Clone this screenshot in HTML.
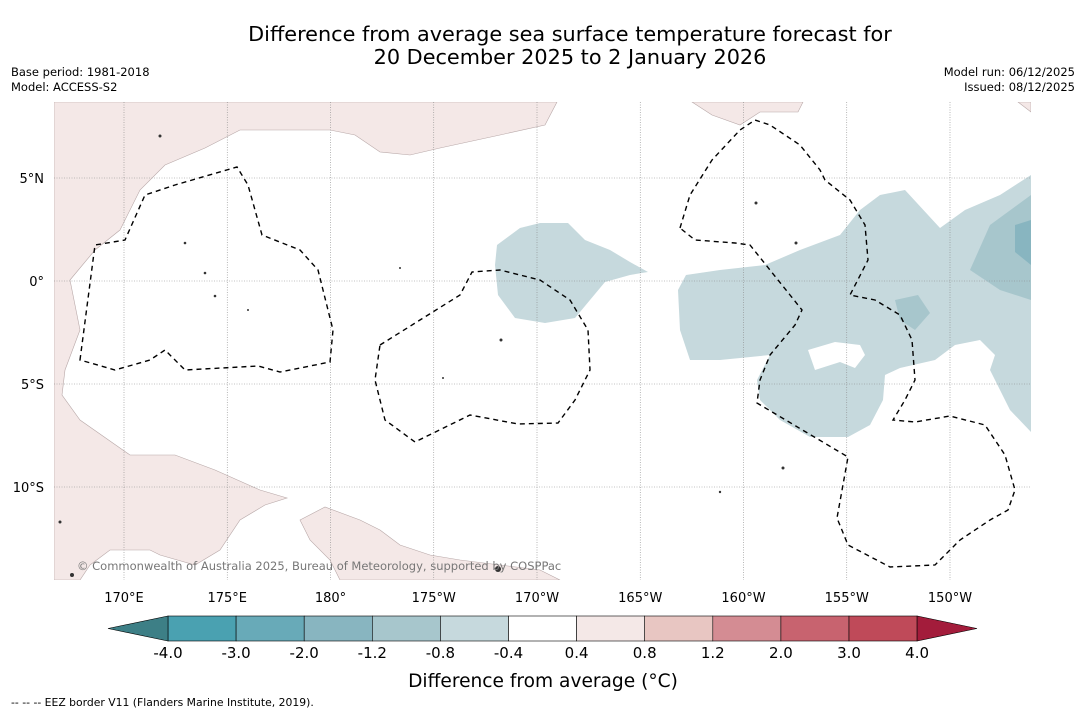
<!DOCTYPE html>
<html><head><meta charset="utf-8"><style>
body{margin:0;background:#fff;font-family:"DejaVu Sans","Liberation Sans",sans-serif;}
svg{display:block}
</style></head><body>
<svg width="1085" height="713" xmlns="http://www.w3.org/2000/svg" font-family="DejaVu Sans, Liberation Sans, sans-serif">
<text x="570" y="41" font-size="20.8" text-anchor="middle" fill="#000">Difference from average sea surface temperature forecast for</text>
<text x="570" y="64" font-size="20.8" text-anchor="middle" fill="#000">20 December 2025 to 2 January 2026</text>
<text x="11" y="76" font-size="11.5">Base period: 1981-2018</text>
<text x="11" y="91" font-size="11.5">Model: ACCESS-S2</text>
<text x="1075" y="76" font-size="11.5" text-anchor="end">Model run: 06/12/2025</text>
<text x="1075" y="91" font-size="11.5" text-anchor="end">Issued: 08/12/2025</text>

<g>
<clipPath id="mc"><rect x="54" y="102" width="977" height="478"/></clipPath>
<g clip-path="url(#mc)">
<rect x="54" y="102" width="977" height="478" fill="#fff"/>
<g>
<polygon fill="#c6d9dd" points="497,245 520,228 540,223 568,223 585,240 610,250 630,262 648,272 630,275 605,282 590,300 575,318 545,323 515,318 498,295 495,265"/>
<polygon fill="#c6d9dd" points="686,275 720,270 765,265 800,250 840,235 860,210 880,195 905,190 940,228 965,210 1000,195 1031,175 1031,432 1010,410 990,370 995,355 980,340 955,345 935,360 900,368 885,375 883,400 870,425 848,437 810,437 780,420 760,400 757,380 770,355 720,360 690,360 680,330 678,290"/>
<polygon fill="#fff" points="808,350 835,342 860,345 865,355 855,368 840,362 815,370"/>
<polygon fill="#a7c6cc" points="970,270 990,225 1031,195 1031,300 1000,290"/>
<polygon fill="#a7c6cc" points="895,300 918,295 930,313 915,330 900,320"/>
<polygon fill="#88b5c0" points="1015,225 1031,220 1031,265 1015,252"/>
</g>
<g fill="#f4e8e7" stroke="#b8a8a8" stroke-width="0.6">
<polygon points="54,102 557,102 545,125 500,135 440,148 410,155 380,152 355,135 330,130 240,130 205,148 165,165 140,190 120,230 95,250 70,280 80,330 65,370 62,395 80,420 130,455 175,455 215,470 260,490 287,498 265,505 240,520 220,550 195,565 160,555 150,550 110,550 90,565 80,580 54,580"/>
<polygon points="300,520 325,507 360,520 380,530 400,545 430,555 460,560 500,565 540,570 560,580 340,580 330,560 310,540"/>
<polygon points="692,102 803,102 798,112 760,112 740,125 712,115"/>
<polygon points="1018,102 1031,102 1031,112"/>
</g>
<g stroke="#888" stroke-width="0.6" stroke-dasharray="1,1.5" id="grid"></g>
<g fill="#333">
<circle cx="185" cy="243" r="1.3"/><circle cx="205" cy="273" r="1.3"/><circle cx="215" cy="296" r="1.3"/><circle cx="248" cy="310" r="1"/><circle cx="400" cy="268" r="1"/><circle cx="501" cy="340" r="1.5"/><circle cx="443" cy="378" r="1"/><circle cx="756" cy="203" r="1.5"/><circle cx="796" cy="243" r="1.5"/><circle cx="783" cy="468" r="1.5"/><circle cx="720" cy="492" r="1.2"/><circle cx="498" cy="569" r="3"/><circle cx="160" cy="136" r="1.5"/><circle cx="60" cy="522" r="1.5"/><circle cx="72" cy="575" r="2"/>
</g>
<path fill="none" stroke="#000" stroke-width="1.4" stroke-dasharray="5,4" d="M80,360 L95,245 L125,240 L145,195 L175,185 L237,167 L248,185 L262,235 L300,250 L318,270 L328,310 L333,330 L330,362 L280,372 L258,366 L185,370 L165,350 L150,360 L115,370 Z M380,345 L460,295 L472,272 L500,270 L540,280 L570,300 L588,330 L590,370 L575,400 L558,423 L518,424 L470,415 L415,442 L385,420 L375,380 Z M680,228 L690,195 L712,160 L740,130 L755,120 L770,125 L800,145 L820,170 L825,180 L850,200 L865,225 L868,260 L850,295 L875,300 L900,315 L912,340 L915,380 L905,400 L893,420 L915,422 L950,416 L985,425 L1005,455 L1015,490 L1008,510 L990,520 L960,540 L935,565 L890,567 L848,545 L837,518 L848,457 L757,403 L760,380 L770,355 L795,325 L802,310 L790,295 L770,270 L750,245 L735,243 L695,240 L680,228"/>
<text x="77" y="570" font-size="11.5" fill="#777">© Commonwealth of Australia 2025, Bureau of Meteorology, supported by COSPPac</text>
</g>
</g>
<g id="axislabels" font-size="13"></g>
<g id="colorbar"></g>
<text x="543" y="687" font-size="18.6" text-anchor="middle">Difference from average (°C)</text>
<text x="11" y="706" font-size="10.8">--  --  -- EEZ border V11 (Flanders Marine Institute, 2019).</text>
</svg>
<script>
const lonTicks=[170,175,180,-175,-170,-165,-160,-155,-150];
const lonLabels=["170°E","175°E","180°","175°W","170°W","165°W","160°W","155°W","150°W"];
const latTicks=[5,0,-5,-10];
const latLabels=["5°N","0°","5°S","10°S"];
const cbBounds=[-4.0,-3.0,-2.0,-1.2,-0.8,-0.4,0.4,0.8,1.2,2.0,3.0,4.0];
const cbTickLabels=["-4.0","-3.0","-2.0","-1.2","-0.8","-0.4","0.4","0.8","1.2","2.0","3.0","4.0"];
const cbColors=["#4aa1b1","#68aab8","#88b5c0","#a7c6cc","#c6d9dd","#ffffff","#f4e8e7","#e8c6c2","#d48c93","#c8636f","#bf4a59"];
const cbExtendColors=["#3d7f86","#a31c3b"];
const NS="http://www.w3.org/2000/svg";
function xLon(l){const e=l<0?l+360:l;return 124+(e-170)*20.65;}
function yLat(l){return 281-l*20.6;}
const grid=document.getElementById('grid'),al=document.getElementById('axislabels');
lonTicks.forEach((l,i)=>{const x=xLon(l);
 const ln=document.createElementNS(NS,'line');ln.setAttribute('x1',x);ln.setAttribute('x2',x);ln.setAttribute('y1',102);ln.setAttribute('y2',580);
 
 grid.appendChild(ln);
 const t=document.createElementNS(NS,'text');t.setAttribute('x',x);t.setAttribute('y',602);t.setAttribute('text-anchor','middle');t.textContent=lonLabels[i];
 
 al.appendChild(t);});
latTicks.forEach((l,i)=>{const y=yLat(l);
 const ln=document.createElementNS(NS,'line');ln.setAttribute('x1',54);ln.setAttribute('x2',1031);ln.setAttribute('y1',y);ln.setAttribute('y2',y);
 
 grid.appendChild(ln);
 const t=document.createElementNS(NS,'text');t.setAttribute('x',44);t.setAttribute('y',y+5);t.setAttribute('text-anchor','end');t.textContent=latLabels[i];
 
 al.appendChild(t);});
const cb=document.getElementById('colorbar');const x0=168,w=68.1,y0=616,h=25;
cbColors.forEach((c,i)=>{const r=document.createElementNS(NS,'rect');r.setAttribute('x',x0+i*w);r.setAttribute('y',y0);r.setAttribute('width',w);r.setAttribute('height',h);r.setAttribute('fill',c);r.setAttribute('stroke','#000');r.setAttribute('stroke-width','0.6');
 
 cb.appendChild(r);});
const xe=x0+cbColors.length*w;
[[`${x0},${y0} ${x0},${y0+h} 108,${y0+h/2}`,cbExtendColors[0]],[`${xe},${y0} ${xe},${y0+h} 977,${y0+h/2}`,cbExtendColors[1]]].forEach(p=>{const g=document.createElementNS(NS,'polygon');g.setAttribute('points',p[0]);g.setAttribute('fill',p[1]);g.setAttribute('stroke','#000');g.setAttribute('stroke-width','0.6');
 
 cb.appendChild(g);});
cbTickLabels.forEach((s,i)=>{const t=document.createElementNS(NS,'text');t.setAttribute('x',x0+i*w);t.setAttribute('y',658);t.setAttribute('font-size','15');t.setAttribute('text-anchor','middle');t.textContent=s;
 
 cb.appendChild(t);});
</script>
</body></html>
